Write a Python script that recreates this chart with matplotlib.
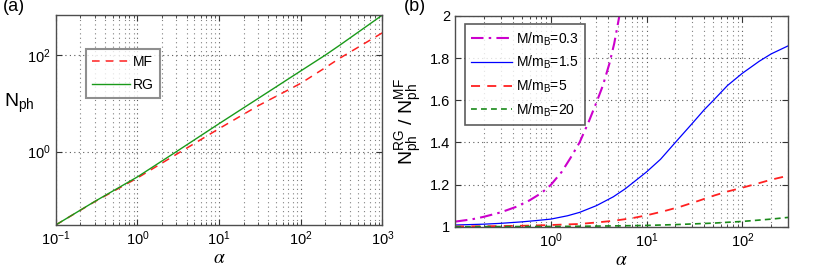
import matplotlib
matplotlib.use("Agg")
import matplotlib.pyplot as plt
from matplotlib.ticker import LogLocator, NullFormatter, FixedLocator

plt.rcParams['font.family'] = ['Liberation Sans', 'DejaVu Sans']
plt.rcParams['mathtext.fontset'] = 'custom'
plt.rcParams['mathtext.rm'] = 'Liberation Sans'
plt.rcParams['mathtext.it'] = 'Liberation Sans:italic'
plt.rcParams['mathtext.bf'] = 'Liberation Sans:bold'

# ---------------- data: panel (a) ----------------
alpha_a = [0.1, 0.3, 1, 3, 10, 30, 100, 200, 300, 1000]
N_RG = [0.0303, 0.093, 0.30, 1.0, 3.8, 12.6, 47, 100, 160, 675]
N_MF = [0.0303, 0.092, 0.285, 0.88, 3.0, 8.9, 26, 55, 86, 290]

# ---------------- data: panel (b) ----------------
alpha_03 = [0.1, 0.15, 0.2, 0.3, 0.44, 0.6, 0.8, 1, 1.3, 1.6, 2, 2.5, 3, 3.5, 4.1, 4.6, 5.2, 6]
r_03 = [1.024, 1.035, 1.047, 1.068, 1.095, 1.125, 1.16, 1.198, 1.26, 1.325, 1.40, 1.50,
        1.59, 1.67, 1.775, 1.87, 2.0, 2.15]
alpha_15 = [0.1, 0.2, 0.3, 0.5, 0.7, 1, 1.5, 2, 3, 4.5, 6, 8, 10, 14, 20, 30, 40, 50,
            70, 100, 150, 200, 300]
r_15 = [1.008, 1.012, 1.016, 1.023, 1.029, 1.036, 1.052, 1.068, 1.10, 1.142, 1.18, 1.225,
        1.26, 1.32, 1.40, 1.49, 1.555, 1.60, 1.67, 1.728, 1.785, 1.82, 1.858]
alpha_5 = [0.1, 0.3, 0.6, 1, 2, 3, 4.5, 7, 10, 15, 22.6, 35, 50, 70, 100, 150, 200, 300]
r_5 = [1.001, 1.003, 1.005, 1.008, 1.013, 1.02, 1.028, 1.04, 1.054, 1.073, 1.095, 1.123,
       1.147, 1.167, 1.185, 1.207, 1.223, 1.242]
alpha_20 = [0.1, 1, 2, 5, 10, 20, 50, 100, 200, 300]
r_20 = [1.0, 1.001, 1.002, 1.004, 1.006, 1.01, 1.017, 1.025, 1.036, 1.044]

labels_b = ['M/m$_\\mathrm{B}$=0.3', 'M/m$_\\mathrm{B}$=1.5', 'M/m$_\\mathrm{B}$=5', 'M/m$_\\mathrm{B}$=20']
yticks_b = [1, 1.2, 1.4, 1.6, 1.8, 2]

fig = plt.figure(figsize=(8.30, 2.73), dpi=100)
ax1 = fig.add_axes([0.0671, 0.1758, 0.3937, 0.7692])
ax2 = fig.add_axes([0.5482, 0.1696, 0.4012, 0.7718])

frame_c = '0.3'

def style(ax):
    for s in ax.spines.values():
        s.set_color(frame_c)
        s.set_linewidth(1.0)
    ax.tick_params(which='both', direction='in', top=True, right=True,
                   color='0.2', labelsize=10.5)
    ax.tick_params(which='major', length=4)
    ax.tick_params(which='minor', length=2)

# ---- panel (a) ----
ax1.plot(alpha_a, N_MF, color='#ff2020', lw=1.1, ls=(0, (5, 4)), label='MF')
ax1.plot(alpha_a, N_RG, color='#1a9a1a', lw=1.0, label='RG')
ax1.set_xscale('log')
ax1.set_yscale('log')
ax1.set_xlim(0.1, 1000)
ax1.set_ylim(0.0303, 675)
ax1.yaxis.set_major_locator(FixedLocator([1, 100]))
ax1.yaxis.set_minor_locator(FixedLocator([]))
ax1.xaxis.set_major_locator(LogLocator(base=10, numticks=10))
ax1.xaxis.set_minor_locator(LogLocator(base=10, subs=range(2, 10), numticks=20))
ax1.xaxis.set_minor_formatter(NullFormatter())
ax1.grid(which='major', ls=(0, (1, 3)), color='0.35', lw=0.8)
ax1.grid(which='minor', axis='x', ls=(0, (1, 3)), color='0.5', lw=0.8)
style(ax1)
ax1.set_xlabel(r'$\alpha$', math_fontfamily='stix', fontsize=14, labelpad=1)
ax1.set_ylabel(r'N$_\mathrm{ph}$', fontsize=14, rotation=0, va='center', ha='center')
ax1.yaxis.set_label_coords(-0.11, 0.58)
leg1 = ax1.legend(loc='upper left', bbox_to_anchor=(0.093, 0.838), fontsize=10,
                  frameon=True, fancybox=False, handlelength=2.7, borderpad=0.45,
                  labelspacing=0.6, handletextpad=0.2, borderaxespad=0)
leg1.get_frame().set_edgecolor('0.45')
leg1.get_frame().set_linewidth(1.5)
fig.text(0.003, 0.958, '(a)', fontsize=13)

# ---- panel (b) ----
ax2.plot(alpha_03, r_03, color='#cc00cc', lw=1.5, ls=(0, (6, 2.5, 1.2, 2.5)), label=labels_b[0])
ax2.plot(alpha_15, r_15, color='#0000ff', lw=0.9, label=labels_b[1])
ax2.plot(alpha_5, r_5, color='#ff2020', lw=1.3, ls=(0, (5, 4)), label=labels_b[2])
ax2.plot(alpha_20, r_20, color='#1a8a1a', lw=1.2, ls=(0, (3.5, 2.5)), label=labels_b[3])
ax2.set_xscale('log')
ax2.set_xlim(0.1, 300)
ax2.set_ylim(1, 2)
ax2.set_yticks(yticks_b)
ax2.set_yticklabels(['1', '1.2', '1.4', '1.6', '1.8', '2'])
ax2.xaxis.set_major_locator(FixedLocator([1, 10, 100]))
ax2.xaxis.set_minor_locator(LogLocator(base=10, subs=range(2, 10), numticks=20))
ax2.xaxis.set_minor_formatter(NullFormatter())
ax2.grid(which='major', ls=(0, (1, 3)), color='0.35', lw=0.8)
ax2.grid(which='minor', axis='x', ls=(0, (1, 3)), color='0.5', lw=0.8)
style(ax2)
ax2.set_xlabel(r'$\alpha$', math_fontfamily='stix', fontsize=14, labelpad=1)
ax2.set_ylabel(r'N$^\mathrm{RG}_\mathrm{ph}$ / N$^\mathrm{MF}_\mathrm{ph}$', fontsize=14, labelpad=4)
leg2 = ax2.legend(loc='upper left', bbox_to_anchor=(0.030, 0.962), fontsize=10,
                  frameon=True, fancybox=False, handlelength=2.9, borderpad=0.45,
                  labelspacing=0.45, handletextpad=0.3, borderaxespad=0)
leg2.get_frame().set_edgecolor('0.2')
leg2.get_frame().set_linewidth(1.2)
fig.text(0.486, 0.958, '(b)', fontsize=13)

fig.savefig('out.png', dpi=100)
